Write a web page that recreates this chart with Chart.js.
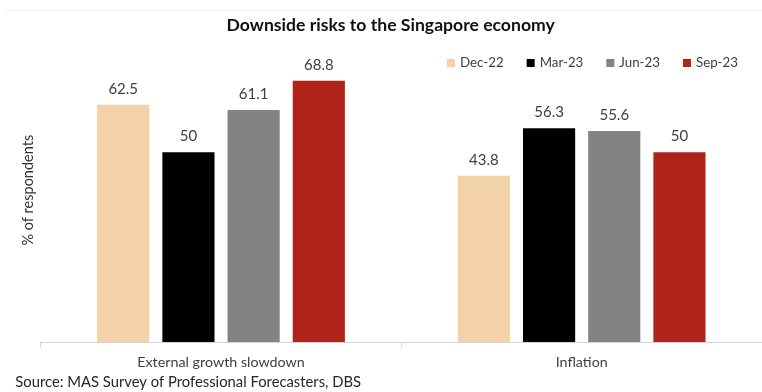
<!DOCTYPE html>
<html>
<head>
<meta charset="utf-8">
<script src="https://cdn.jsdelivr.net/npm/chart.js@4.4.0/dist/chart.umd.min.js"></script>
<style>
  html, body { margin: 0; padding: 0; background: #fff; }
  .chart-container { position: relative; width: 762px; height: 392px; }
</style>
</head>
<body>
<div class="chart-container">
    <canvas id="risksChart"></canvas>
</div>

<script>
    // Share of forecasters citing each downside risk, by survey round
    const categories = ['External growth slowdown', 'Inflation'];
    const surveyRounds = ['Dec-22', 'Mar-23', 'Jun-23', 'Sep-23'];
    const dec22 = [62.5, 43.8];
    const mar23 = [50, 56.3];
    const jun23 = [61.1, 55.6];
    const sep23 = [68.8, 50];

    const FONT = 'Lato, "Liberation Sans", sans-serif';
    Chart.defaults.font.family = FONT;

    // value printed above each bar
    const barValues = {
        id: 'barValues',
        afterDatasetsDraw(chart) {
            const ctx = chart.ctx;
            ctx.save();
            ctx.font = '15px ' + FONT;
            ctx.fillStyle = '#404040';
            ctx.textAlign = 'center';
            ctx.textBaseline = 'middle';
            chart.data.datasets.forEach((ds, i) => {
                chart.getDatasetMeta(i).data.forEach((bar, j) => {
                    ctx.fillText(String(ds.data[j]), bar.x, bar.y - 16);
                });
            });
            ctx.restore();
        }
    };

    // legend row sitting inside the plot, top right
    const insideLegend = {
        id: 'insideLegend',
        afterDraw(chart) {
            const ctx = chart.ctx;
            let x = 447;
            const y = 63;
            ctx.save();
            ctx.font = '13.3px ' + FONT;
            ctx.textBaseline = 'middle';
            ctx.textAlign = 'left';
            chart.data.datasets.forEach(ds => {
                ctx.fillStyle = ds.backgroundColor;
                ctx.fillRect(x, y - 4, 8, 8);
                ctx.fillStyle = '#404040';
                ctx.fillText(ds.label, x + 13, y);
                x += 13 + ctx.measureText(ds.label).width + 23;
            });
            ctx.restore();
        }
    };

    // thin frame line along the top
    const topRule = {
        id: 'topRule',
        beforeDraw(chart) {
            const ctx = chart.ctx;
            ctx.save();
            ctx.strokeStyle = '#f0f0f0';
            ctx.lineWidth = 1;
            ctx.beginPath();
            ctx.moveTo(5, 10.5);
            ctx.lineTo(chart.width, 10.5);
            ctx.stroke();
            ctx.restore();
        }
    };

    const ctx = document.getElementById('risksChart').getContext('2d');
    const risksChart = new Chart(ctx, {
        type: 'bar',
        data: {
            labels: categories,
            datasets: [
                { label: surveyRounds[0], data: dec22, backgroundColor: '#f3d2aa' },
                { label: surveyRounds[1], data: mar23, backgroundColor: '#000000' },
                { label: surveyRounds[2], data: jun23, backgroundColor: '#838383' },
                { label: surveyRounds[3], data: sep23, backgroundColor: '#b0231a' }
            ]
        },
        options: {
            responsive: true,
            maintainAspectRatio: false,
            animation: false,
            datasets: {
                bar: { categoryPercentage: 0.723, barPercentage: 0.8 }
            },
            layout: {
                padding: { left: 15.3, right: -4, top: 0, bottom: 0 }
            },
            plugins: {
                legend: { display: false },
                tooltip: { enabled: false },
                title: {
                    display: true,
                    text: 'Downside risks to the Singapore economy',
                    color: '#111',
                    font: { size: 17.6, weight: 'bold' },
                    padding: { top: 15.2, bottom: 2 }
                },
                subtitle: {
                    display: true,
                    position: 'bottom',
                    align: 'start',
                    text: 'Source: MAS Survey of Professional Forecasters, DBS',
                    color: '#262626',
                    font: { size: 14.8 },
                    padding: { top: -5, bottom: 1 }
                }
            },
            scales: {
                x: {
                    grid: {
                        drawOnChartArea: false,
                        drawTicks: true,
                        tickLength: 5,
                        color: '#d4d4d4'
                    },
                    border: { color: '#d4d4d4', width: 1 },
                    ticks: {
                        color: '#404040',
                        font: { size: 14.3 },
                        padding: 7
                    }
                },
                y: {
                    min: 0,
                    max: 80,
                    grid: { display: false, drawTicks: false },
                    border: { display: false },
                    ticks: { display: false },
                    title: {
                        display: true,
                        text: '% of respondents',
                        color: '#333',
                        font: { size: 14.5 },
                        padding: { top: 4, bottom: 4 }
                    }
                }
            }
        },
        plugins: [topRule, barValues, insideLegend]
    });
</script>
</body>
</html>
